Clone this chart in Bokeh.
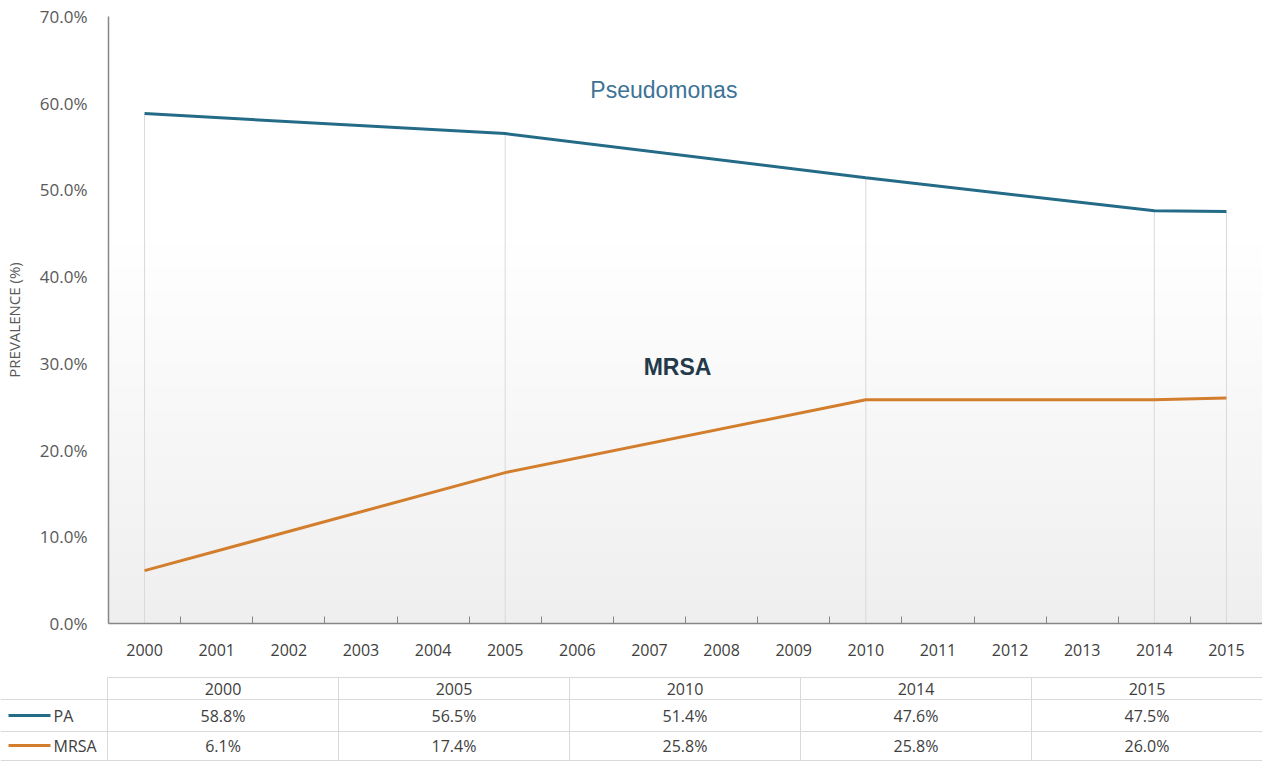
import numpy as np
from bokeh.plotting import figure
from bokeh.models import Range1d, FixedTicker, PrintfTickFormatter, Label
from bokeh.embed import file_html
from bokeh.resources import INLINE
from bokeh.core.properties import value

# ---------------- data ----------------
categories = ["2000", "2001", "2002", "2003", "2004", "2005", "2006", "2007",
              "2008", "2009", "2010", "2011", "2012", "2013", "2014", "2015"]
data_years = ["2000", "2005", "2010", "2014", "2015"]
pa_values = [58.8, 56.5, 51.4, 47.6, 47.5]
mrsa_values = [6.1, 17.4, 25.8, 25.8, 26.0]
series_names = ["PA", "MRSA"]
y_ticks = [0, 10, 20, 30, 40, 50, 60, 70]

PA_COLOR = "#246b88"
MRSA_COLOR = "#d27e2d"
GRID_GRAY = "#d9d9d9"
AXIS_GRAY = "#868686"
TEXT_GRAY = "#595959"
FONT = "Open Sans"

xs = [categories.index(y) for y in data_years]
n_cat = len(categories)

W = 1262

# ---------------- main chart ----------------
p = figure(width=W, height=670,
           x_range=Range1d(-0.5, n_cat - 0.5), y_range=Range1d(0, 70),
           output_backend="svg", toolbar_location=None,
           min_border_left=107, min_border_right=0,
           min_border_top=16, min_border_bottom=47)
p.outline_line_color = None
p.xgrid.visible = False
p.ygrid.visible = False
p.background_fill_color = "white"
p.border_fill_color = "white"

# vertical gradient background (white at top -> light gray at bottom)
ng = 256
t = np.linspace(0.0, 1.0, ng)
g = (239 + (255 - 239) * np.clip(t * 1.6, 0, 1)).astype(np.uint8)
img = np.zeros((ng, 1), dtype=np.uint32)
view = img.view(dtype=np.uint8).reshape((ng, 1, 4))
view[:, 0, 0] = g
view[:, 0, 1] = g
view[:, 0, 2] = g
view[:, 0, 3] = 255
p.image_rgba(image=[img], x=-0.5, y=0, dw=n_cat, dh=70)

# drop lines
tops = [max(a, b) for a, b in zip(pa_values, mrsa_values)]
p.segment(x0=xs, y0=[0] * len(xs), x1=xs, y1=tops,
          line_color=GRID_GRAY, line_width=1)

# series lines
p.line(xs, pa_values, line_color=PA_COLOR, line_width=3)
p.line(xs, mrsa_values, line_color=MRSA_COLOR, line_width=3)

# annotations
p.add_layout(Label(x=7.2, y=61.5, text="Pseudomonas", text_align="center",
                   text_baseline="middle", text_font="Liberation Sans",
                   text_font_size="23px", text_color="#3d7396"))
p.add_layout(Label(x=7.39, y=29.6, text="MRSA", text_align="center",
                   text_baseline="middle", text_font="Liberation Sans",
                   text_font_size="23px", text_font_style="bold",
                   text_color="#233a4a"))

# x axis
p.xaxis.ticker = FixedTicker(ticks=list(range(n_cat)),
                             minor_ticks=[i + 0.5 for i in range(n_cat - 1)])
p.xaxis.major_label_overrides = {i: c for i, c in enumerate(categories)}
p.xaxis.major_tick_line_color = None
p.xaxis.minor_tick_in = 7
p.xaxis.minor_tick_out = 0
p.xaxis.minor_tick_line_color = AXIS_GRAY
p.xaxis.axis_line_color = AXIS_GRAY
p.xaxis.axis_line_width = 1.5
p.xaxis.major_label_standoff = 14
p.xaxis.major_label_text_font = FONT
p.xaxis.major_label_text_font_size = "16px"
p.xaxis.major_label_text_color = "#404040"

# y axis
p.yaxis.ticker = FixedTicker(ticks=y_ticks)
p.yaxis.formatter = PrintfTickFormatter(format="%.1f%%")
p.yaxis.major_tick_line_color = None
p.yaxis.minor_tick_line_color = None
p.yaxis.axis_line_color = AXIS_GRAY
p.yaxis.axis_line_width = 1.5
p.yaxis.major_label_standoff = 15
p.yaxis.major_label_text_font = FONT
p.yaxis.major_label_text_font_size = "17px"
p.yaxis.major_label_text_color = TEXT_GRAY
p.yaxis.axis_label = "PREVALENCE (%)"
p.yaxis.axis_label_text_font = FONT
p.yaxis.axis_label_text_font_size = "15px"
p.yaxis.axis_label_text_font_style = "normal"
p.yaxis.axis_label_text_color = TEXT_GRAY
p.yaxis.axis_label_standoff = 13

# ---------------- data table ----------------
tw, th = W, 92
tbl = figure(width=tw, height=th, x_range=Range1d(0, tw), y_range=Range1d(th, 0),
             output_backend="svg", toolbar_location=None,
             x_axis_location=None, y_axis_location=None,
             min_border=0)
tbl.outline_line_color = None
tbl.xgrid.visible = False
tbl.ygrid.visible = False

label_w = 107
col_w = (tw - label_w) / len(data_years)
col_edges = [label_w + col_w * k for k in range(len(data_years) + 1)]
col_centers = [label_w + col_w * (k + 0.5) for k in range(len(data_years))]
row_top, row_h1, row_h2 = 7, 29, 61
row_bottom = 90
row_centers = [18, 45, 75]

# borders
tbl.segment(x0=[label_w, 0, 0, 0], y0=[row_top, row_h1, row_h2, row_bottom],
            x1=[tw, tw, tw, tw], y1=[row_top, row_h1, row_h2, row_bottom],
            line_color=GRID_GRAY, line_width=1)
tbl.segment(x0=col_edges, y0=[row_top] * len(col_edges),
            x1=col_edges, y1=[row_bottom] * len(col_edges),
            line_color=GRID_GRAY, line_width=1)

# header
tbl.text(x=col_centers, y=[row_centers[0]] * len(data_years), text=data_years,
         text_align="center", text_baseline="middle",
         text_font=value(FONT), text_font_size="16px", text_color="#404040")

# rows
for r, (name, vals, color) in enumerate(zip(series_names,
                                             [pa_values, mrsa_values],
                                             [PA_COLOR, MRSA_COLOR])):
    yc = row_centers[r + 1]
    tbl.text(x=col_centers, y=[yc] * len(vals), text=[f"{v:.1f}%" for v in vals],
             text_align="center", text_baseline="middle",
             text_font=value(FONT), text_font_size="16px", text_color="#404040")
    tbl.line([8, 50], [yc, yc], line_color=color, line_width=3)
    tbl.text(x=[53], y=[yc], text=[name], text_align="left", text_baseline="middle",
             text_font=value(FONT), text_font_size="16px", text_color="#404040")

open("out.html", "w").write(file_html([p, tbl], INLINE))
